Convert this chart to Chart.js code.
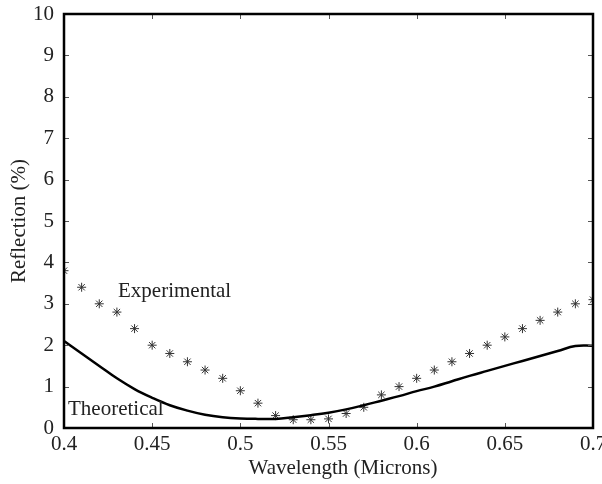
<!DOCTYPE html>
<html>
<head>
<meta charset="utf-8">
<script src="https://cdn.jsdelivr.net/npm/chart.js@4"></script>
<style>
  body { margin: 0; background: #fff; }
  #wrap { width: 602px; height: 484px; }
</style>
</head>
<body>
<div id="wrap"><canvas id="chart" width="602" height="484"></canvas></div>
<script>
// wavelengths (microns) shared by both series
const wavelengths = [0.40, 0.41, 0.42, 0.43, 0.44, 0.45, 0.46, 0.47, 0.48, 0.49, 0.50,
  0.51, 0.52, 0.53, 0.54, 0.55, 0.56, 0.57, 0.58, 0.59, 0.60,
  0.61, 0.62, 0.63, 0.64, 0.65, 0.66, 0.67, 0.68, 0.69, 0.70];
const experimental = [3.8, 3.4, 3.0, 2.8, 2.4, 2.0, 1.8, 1.6, 1.4, 1.2, 0.9,
  0.6, 0.3, 0.2, 0.2, 0.22, 0.35, 0.5, 0.8, 1.0, 1.2,
  1.4, 1.6, 1.8, 2.0, 2.2, 2.4, 2.6, 2.8, 3.0, 3.1];
const theoretical = [2.1, 1.8, 1.5, 1.2, 0.94, 0.73, 0.55, 0.42, 0.32, 0.26, 0.23,
  0.22, 0.22, 0.26, 0.31, 0.37, 0.45, 0.55, 0.66, 0.77, 0.89,
  1.0, 1.13, 1.26, 1.38, 1.5, 1.62, 1.74, 1.86, 1.98, 1.99];
const xTicks = [0.4, 0.45, 0.5, 0.55, 0.6, 0.65, 0.7];

const serif = "'Liberation Serif', 'DejaVu Serif', serif";

const frame = {
  id: "frame",
  afterDraw(chart) {
    const ctx = chart.ctx;
    const a = chart.chartArea;
    const x = chart.scales.x, y = chart.scales.y;
    ctx.save();
    // small inside ticks on all four sides
    ctx.strokeStyle = "#555";
    ctx.lineWidth = 1;
    ctx.beginPath();
    x.ticks.forEach(t => {
      const px = Math.round(x.getPixelForValue(t.value)) + 0.5;
      ctx.moveTo(px, a.bottom); ctx.lineTo(px, a.bottom - 5);
      ctx.moveTo(px, a.top); ctx.lineTo(px, a.top + 5);
    });
    y.ticks.forEach(t => {
      const py = Math.round(y.getPixelForValue(t.value)) + 0.5;
      ctx.moveTo(a.left, py); ctx.lineTo(a.left + 5, py);
      ctx.moveTo(a.right, py); ctx.lineTo(a.right - 5, py);
    });
    ctx.stroke();
    // heavy box
    ctx.strokeStyle = "#000";
    ctx.lineWidth = 2.5;
    ctx.strokeRect(a.left, a.top, a.right - a.left, a.bottom - a.top);
    // labels and axis titles
    ctx.fillStyle = "#222";
    ctx.font = "21px " + serif;
    ctx.textBaseline = "alphabetic";
    ctx.textAlign = "left";
    ctx.fillText("Experimental", 118, 297);
    ctx.fillText("Theoretical", 68, 415);
    ctx.textAlign = "center";
    ctx.textBaseline = "middle";
    ctx.fillText("Wavelength (Microns)", 343, 468);
    ctx.translate(19, (a.top + a.bottom) / 2);
    ctx.rotate(-Math.PI / 2);
    ctx.fillText("Reflection (%)", 0, 0);
    ctx.restore();
  }
};

new Chart(document.getElementById("chart"), {
  type: "scatter",
  data: {
    datasets: [
      {
        label: "Theoretical",
        type: "line",
        data: wavelengths.map((w, i) => ({ x: w, y: theoretical[i] })),
        borderColor: "#000",
        borderWidth: 2.5,
        pointRadius: 0,
        tension: 0.4,
        fill: false
      },
      {
        label: "Experimental",
        data: wavelengths.map((w, i) => ({ x: w, y: experimental[i] })),
        pointStyle: "star",
        pointRadius: 4.5,
        borderColor: "#333",
        backgroundColor: "#333",
        borderWidth: 1
      }
    ]
  },
  options: {
    responsive: false,
    animation: false,
    layout: { padding: { top: 14, right: 9, left: 0, bottom: 0 } },
    plugins: { legend: { display: false }, tooltip: { enabled: false } },
    scales: {
      x: {
        type: "linear",
        min: 0.4, max: 0.7,
        afterBuildTicks: s => { s.ticks = xTicks.map(v => ({ value: v })); },
        afterFit: s => { s.height = 56; s.paddingLeft = 0; s.paddingRight = 0; },
        grid: { display: false, drawTicks: false },
        border: { display: false },
        ticks: {
          color: "#222",
          font: { family: serif, size: 21 },
          padding: 4,
          maxRotation: 0,
          autoSkip: false,
          callback: v => String(Number(v.toFixed(2)))
        }
      },
      y: {
        min: 0, max: 10,
        afterFit: s => { s.width = 64; s.paddingTop = 0; s.paddingBottom = 0; },
        grid: { display: false, drawTicks: false },
        border: { display: false },
        ticks: {
          stepSize: 1,
          color: "#222",
          font: { family: serif, size: 21 },
          padding: 10
        }
      }
    }
  },
  plugins: [frame]
});
</script>
</body>
</html>
